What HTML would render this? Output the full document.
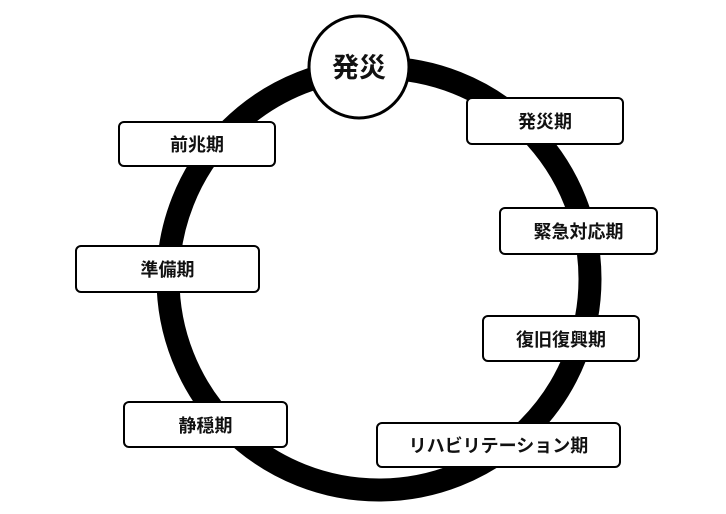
<!DOCTYPE html>
<html><head><meta charset="utf-8"><style>
body{margin:0;background:#fff;width:726px;height:514px;overflow:hidden;position:relative;font-family:"Liberation Sans","Noto Sans CJK JP",sans-serif;}
.b{position:absolute;box-sizing:border-box;border:2.5px solid #000;border-radius:6px;background:#fff;display:flex;align-items:center;justify-content:center;font-size:18px;font-weight:bold;color:#111;}
</style></head><body>
<svg width="726" height="514" style="position:absolute;left:0;top:0">
<circle cx="379" cy="279" r="211" fill="none" stroke="#000" stroke-width="23"/>
<ellipse cx="359" cy="67" rx="50" ry="51" fill="#fff" stroke="#000" stroke-width="3"/>
<text x="359" y="77" text-anchor="middle" font-size="27" font-weight="bold" font-family="Liberation Sans,Noto Sans CJK JP,sans-serif" fill="#111">発災</text>
</svg>
<div class="b" style="left:118px;top:121px;width:158px;height:46px">前兆期</div>
<div class="b" style="left:466px;top:97px;width:158px;height:48px">発災期</div>
<div class="b" style="left:499px;top:207px;width:159px;height:48px">緊急対応期</div>
<div class="b" style="left:75px;top:245px;width:185px;height:48px">準備期</div>
<div class="b" style="left:482px;top:315px;width:158px;height:47px">復旧復興期</div>
<div class="b" style="left:123px;top:401px;width:165px;height:47px">静穏期</div>
<div class="b" style="left:376px;top:422px;width:245px;height:46px">リハビリテーション期</div>
</body></html>
